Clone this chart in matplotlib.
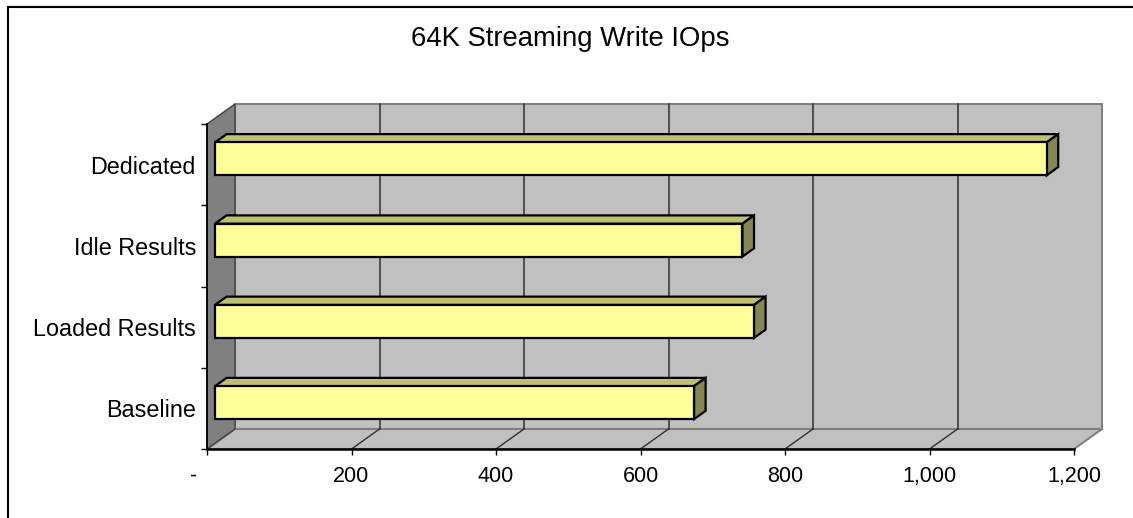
import matplotlib
matplotlib.use('Agg')
import matplotlib.pyplot as plt
from matplotlib.patches import Polygon, Rectangle
from matplotlib.transforms import ScaledTranslation

plt.rcParams['font.family'] = ['Liberation Sans', 'DejaVu Sans']

# Data (bottom to top)
categories = ['Baseline', 'Loaded Results', 'Idle Results', 'Dedicated']
iops = [663, 746, 730, 1151]
x_ticks = [0, 200, 400, 600, 800, 1000, 1200]
x_labels = ['-', '200', '400', '600', '800', '1,000', '1,200']
title = '64K Streaming Write IOps'

W, H = 1133, 518
fig = plt.figure(figsize=(W / 100, H / 100), dpi=100)

# front plane of the plot: x 207..1074 px, y 124..449 px
ax = fig.add_axes([207 / W, (H - 449) / H, 867 / W, 325 / H])
ax.set_xlim(0, 1200)
ax.set_ylim(-0.5, 3.5)
ax.patch.set_visible(False)

# depth offset (28 px right, 20 px up) in data units
DX = 28 / (867 / 1200)
DY = 20 / (325 / 4)
ymin, ymax = -0.5, 3.5
xmax = 1200

WALL = '#c0c0c0'
EDGE = '#808080'

# back wall
ax.add_patch(Rectangle((DX, ymin + DY), xmax, ymax - ymin, facecolor=WALL,
                       edgecolor=EDGE, lw=1.5, clip_on=False, zorder=1))
# floor
ax.add_patch(Polygon([(0, ymin), (xmax, ymin), (xmax + DX, ymin + DY), (DX, ymin + DY)],
                     closed=True, facecolor=WALL, edgecolor=EDGE, lw=1.5,
                     clip_on=False, zorder=1))

# gridlines on the wall and floor
for v in x_ticks[1:-1]:
    ax.plot([v + DX, v + DX], [ymin + DY, ymax + DY], color='#303030', lw=1.1,
            clip_on=False, zorder=2)
    ax.plot([v, v + DX], [ymin, ymin + DY], color='#303030', lw=1.0,
            clip_on=False, zorder=2)

# left side wall
ax.add_patch(Polygon([(0, ymin), (DX, ymin + DY), (DX, ymax + DY), (0, ymax)],
                     closed=True, facecolor='#808080', edgecolor='#404040', lw=1.0,
                     clip_on=False, zorder=3))

# 3D bars
d0, d1 = 0.286, 0.70
hh = 0.203
for i, v in enumerate(iops):
    x0, y0 = d0 * DX, i + d0 * DY
    x1, y1 = d1 * DX, i + d1 * DY
    front = [(x0, y0 - hh), (v + x0, y0 - hh), (v + x0, y0 + hh), (x0, y0 + hh)]
    top = [(x0, y0 + hh), (v + x0, y0 + hh), (v + x1, y1 + hh), (x1, y1 + hh)]
    side = [(v + x0, y0 - hh), (v + x1, y1 - hh), (v + x1, y1 + hh), (v + x0, y0 + hh)]
    ax.add_patch(Polygon(top, closed=True, facecolor='#bfbf73', edgecolor='black',
                         lw=1.6, joinstyle='miter', clip_on=False, zorder=5))
    ax.add_patch(Polygon(side, closed=True, facecolor='#868652', edgecolor='black',
                         lw=1.6, joinstyle='miter', clip_on=False, zorder=5))
    ax.add_patch(Polygon(front, closed=True, facecolor='#ffff99', edgecolor='black',
                         lw=1.6, joinstyle='miter', clip_on=False, zorder=6))

# axes
for s in ['top', 'right']:
    ax.spines[s].set_visible(False)
ax.spines['left'].set_color('black')
ax.spines['bottom'].set_color('black')
ax.spines['left'].set_linewidth(1.3)
ax.spines['bottom'].set_linewidth(1.8)
ax.spines['left'].set_zorder(4)
ax.spines['bottom'].set_zorder(4)

ax.set_xticks(x_ticks)
ax.set_xticklabels(x_labels, fontsize=15.5)
ax.tick_params(axis='x', direction='out', length=4.5, width=1, pad=7.5)

ax.set_yticks(range(len(categories)))
ax.set_yticklabels(categories, fontsize=16.8)
ax.set_yticks([-0.5, 0.5, 1.5, 2.5, 3.5], minor=True)
ax.tick_params(axis='y', which='major', length=0, pad=11 * 0.72)
ax.tick_params(axis='y', which='minor', direction='out', length=4, width=1)

# shift the zero label left like the accounting format does
zero_lbl = ax.get_xticklabels()[0]
zero_lbl.set_transform(zero_lbl.get_transform() + ScaledTranslation(-13 / 100, 0, fig.dpi_scale_trans))

fig.text(570 / W, 1 - 39.5 / H, title, fontsize=19.8, ha='center', va='center')

# chart border
fig.patches.append(Rectangle((7.5 / W, -0.1), 1.2, 1.1 - 7 / H, transform=fig.transFigure,
                             fill=False, edgecolor='black', lw=1.5))

fig.savefig('out.png', dpi=100, facecolor='white')
